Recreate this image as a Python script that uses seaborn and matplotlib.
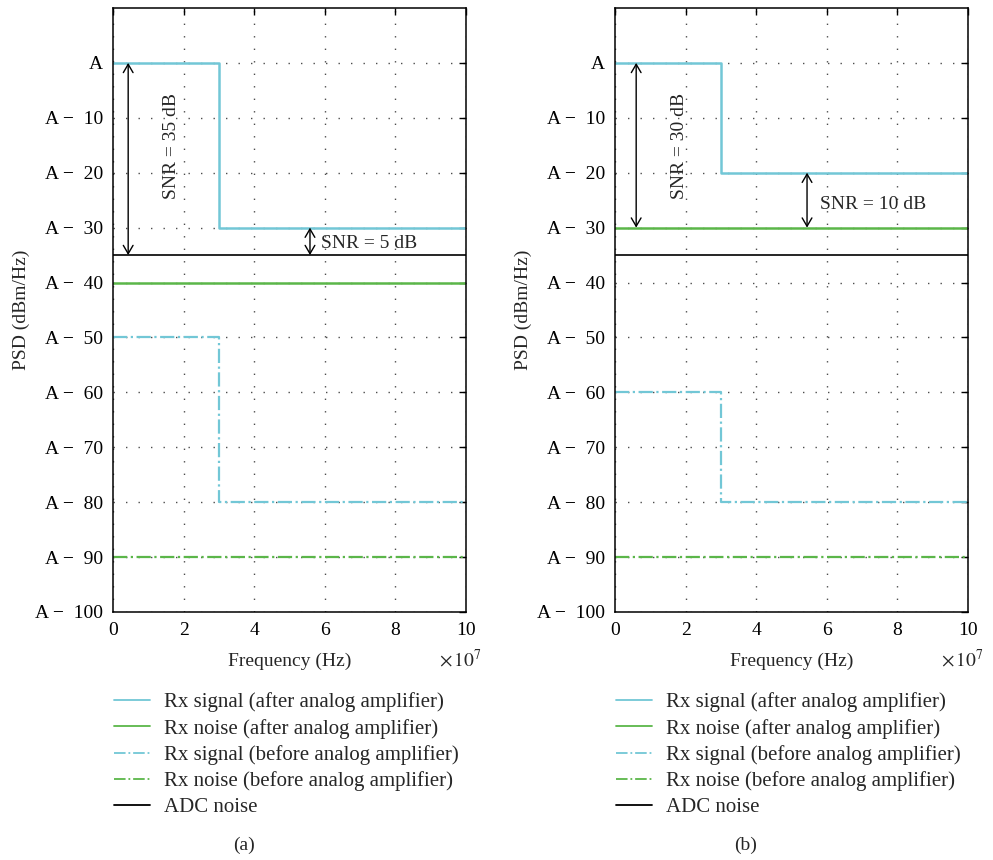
import matplotlib
matplotlib.use('Agg')
from matplotlib import pyplot as plt
from matplotlib.lines import Line2D
import seaborn

seaborn.set_style('white')
plt.rcParams['font.family'] = ['Liberation Serif', 'DejaVu Serif']
plt.rcParams['mathtext.fontset'] = 'stix'

# frequency break points (x 10^7 Hz)
freq = [0, 3, 10]

# panel (a), dB relative to A
a_sigAfter = [0, -30, -30]
a_noiseAfter = [-40, -40, -40]
a_sigBefore = [-50, -80, -80]
a_noiseBefore = [-90, -90, -90]
a_adc = [-35, -35, -35]

# panel (b)
b_sigAfter = [0, -20, -20]
b_noiseAfter = [-30, -30, -30]
b_sigBefore = [-60, -80, -80]
b_noiseBefore = [-90, -90, -90]
b_adc = [-35, -35, -35]

yTicks = [0, -10, -20, -30, -40, -50, -60, -70, -80, -90, -100]
yTickLabels = ['A'] + ['A \u2212  {:d}'.format(-v) for v in yTicks[1:]]
xTicks = [0, 2, 4, 6, 8, 10]

legendLabels = ['Rx signal (after analog amplifier)',
                'Rx noise (after analog amplifier)',
                'Rx signal (before analog amplifier)',
                'Rx noise (before analog amplifier)',
                'ADC noise']

# annotations: (x, y top, y bottom, label, label x, label y, rotated)
a_notes = [(0.43, 0, -35, 'SNR = 35 dB', 1.67, -15.2, True),
           (5.58, -30, -35, 'SNR = 5 dB', 5.89, -32.8, False)]
b_notes = [(0.6, 0, -30, 'SNR = 30 dB', 1.84, -15.2, True),
           (5.44, -20, -30, 'SNR = 10 dB', 5.81, -25.7, False)]

cSig = '#72c7d6'
cNoise = '#5bb649'
fs = 14
fsLeg = 15

fig = plt.figure(figsize=(9.93, 8.6), dpi=100)


def drawPanel(left, series, notes, caption):
    ax = fig.add_axes([left, 0.2884, 0.3555, 0.7023])
    sigAfter, noiseAfter, sigBefore, noiseBefore, adc = series
    seaborn.lineplot(x=freq, y=sigAfter, ax=ax, color=cSig, lw=1.8, drawstyle='steps-post')
    seaborn.lineplot(x=freq, y=noiseAfter, ax=ax, color=cNoise, lw=1.8, drawstyle='steps-post')
    seaborn.lineplot(x=freq, y=sigBefore, ax=ax, color=cSig, lw=1.6, linestyle='-.', drawstyle='steps-post')
    seaborn.lineplot(x=freq, y=noiseBefore, ax=ax, color=cNoise, lw=1.6, linestyle='-.', drawstyle='steps-post')
    seaborn.lineplot(x=freq, y=adc, ax=ax, color='black', lw=1.2, drawstyle='steps-post')

    ax.set_xlim(0, 10)
    ax.set_ylim(-100, 10)
    ax.set_xticks(xTicks)
    ax.set_yticks(yTicks)
    ax.set_yticklabels(yTickLabels)
    ax.tick_params(direction='in', top=True, right=True, length=5, width=1,
                   labelsize=fs, colors='black', pad=7)
    ax.grid(True, color='0.3', linestyle=(0, (1, 8)), linewidth=1.0)
    for sp in ax.spines.values():
        sp.set_color('black')
        sp.set_linewidth(1.1)

    ax.set_xlabel('Frequency (Hz)', fontsize=fs, labelpad=10)
    ax.set_ylabel('PSD (dBm/Hz)', fontsize=fs, labelpad=4)
    ax.text(0.985, -0.078, r'$\times\,10^{7}$', transform=ax.transAxes,
            fontsize=fs, ha='center', va='center')

    for x, y1, y2, label, tx, ty, rot in notes:
        ax.annotate('', xy=(x, y1), xytext=(x, y2),
                    arrowprops=dict(arrowstyle='<->, head_length=0.6, head_width=0.35',
                                    color='black', lw=1, shrinkA=0, shrinkB=0))
        if rot:
            ax.text(tx, ty, label, rotation=90, fontsize=fs, ha='center', va='center')
        else:
            ax.text(tx, ty, label, fontsize=fs, ha='left', va='center')

    handles = [Line2D([], [], color=cSig, lw=1.3),
               Line2D([], [], color=cNoise, lw=1.3),
               Line2D([], [], color=cSig, lw=1.3, linestyle='-.'),
               Line2D([], [], color=cNoise, lw=1.3, linestyle='-.'),
               Line2D([], [], color='black', lw=1.3)]
    fig.legend(handles, legendLabels, loc='upper left',
               bbox_to_anchor=(left - 7 / 993, 1 - 684 / 860), frameon=False,
               fontsize=fsLeg, handlelength=1.7, handletextpad=0.68,
               labelspacing=0.31, borderaxespad=0)
    fig.text(left + 131 / 993, 1 - 845 / 860, caption, fontsize=fs, ha='center', va='center')
    return ax


drawPanel(113 / 993, [a_sigAfter, a_noiseAfter, a_sigBefore, a_noiseBefore, a_adc], a_notes, '(a)')
drawPanel(615 / 993, [b_sigAfter, b_noiseAfter, b_sigBefore, b_noiseBefore, b_adc], b_notes, '(b)')

fig.savefig('out.png', dpi=100)
